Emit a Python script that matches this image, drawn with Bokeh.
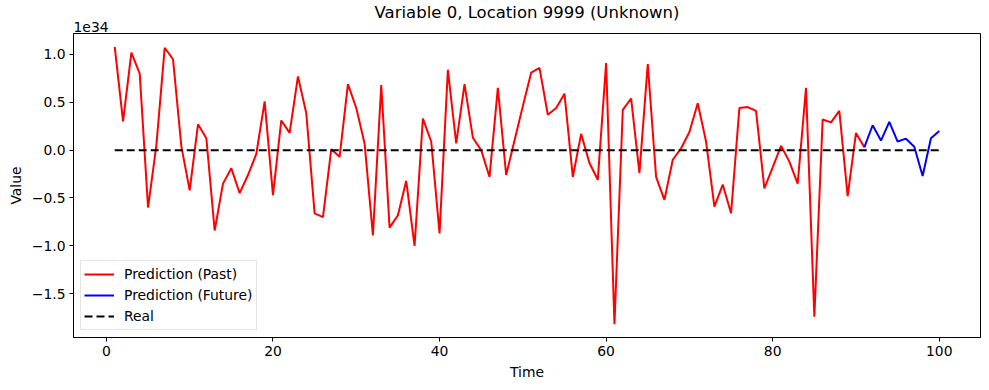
from bokeh.plotting import figure
from bokeh.models import Range1d, FixedTicker, Legend, LegendItem, Title
from bokeh.embed import file_html
from bokeh.resources import INLINE

# ---- data (values in units of 1e34) ----
SCALE_TEXT = "1e34"
TIME_PAST = list(range(1, 92))
PRED_PAST = [
    1.08, 0.30, 1.02, 0.80, -0.60, 0.05, 1.07, 0.95, 0.04, -0.42,
    0.27, 0.125, -0.84, -0.35, -0.19, -0.45, -0.26, -0.04, 0.51, -0.47,
    0.31, 0.18, 0.77, 0.385, -0.66, -0.70, 0.01, -0.07, 0.69, 0.44,
    0.07, -0.89, 0.68, -0.81, -0.68, -0.32, -1.00, 0.33, 0.09, -0.87,
    0.84, 0.07, 0.69, 0.13, 0.00, -0.28, 0.65, -0.26, 0.10, 0.46,
    0.81, 0.86, 0.37, 0.44, 0.59, -0.28, 0.17, -0.135, -0.31, 0.91,
    -1.82, 0.42, 0.54, -0.24, 0.90, -0.28, -0.52, -0.10, 0.02, 0.19,
    0.49, 0.09, -0.59, -0.36, -0.66, 0.44, 0.45, 0.41, -0.40, -0.18,
    0.045, -0.12, -0.35, 0.65, -1.74, 0.32, 0.29, 0.41, -0.48, 0.18,
    0.03,
]
TIME_FUTURE = list(range(91, 101))
PRED_FUTURE = [0.03, 0.26, 0.10, 0.295, 0.09, 0.12, 0.035, -0.27, 0.125, 0.20]
TIME_REAL = list(range(1, 101))
REAL = [
    0.0, 0.0, 0.0, 0.0, 0.0, 0.0, 0.0, 0.0, 0.0, 0.0,
    0.0, 0.0, 0.0, 0.0, 0.0, 0.0, 0.0, 0.0, 0.0, 0.0,
    0.0, 0.0, 0.0, 0.0, 0.0, 0.0, 0.0, 0.0, 0.0, 0.0,
    0.0, 0.0, 0.0, 0.0, 0.0, 0.0, 0.0, 0.0, 0.0, 0.0,
    0.0, 0.0, 0.0, 0.0, 0.0, 0.0, 0.0, 0.0, 0.0, 0.0,
    0.0, 0.0, 0.0, 0.0, 0.0, 0.0, 0.0, 0.0, 0.0, 0.0,
    0.0, 0.0, 0.0, 0.0, 0.0, 0.0, 0.0, 0.0, 0.0, 0.0,
    0.0, 0.0, 0.0, 0.0, 0.0, 0.0, 0.0, 0.0, 0.0, 0.0,
    0.0, 0.0, 0.0, 0.0, 0.0, 0.0, 0.0, 0.0, 0.0, 0.0,
    0.0, 0.0, 0.0, 0.0, 0.0, 0.0, 0.0, 0.0, 0.0, 0.0,
]
X_TICKS = [0, 20, 40, 60, 80, 100]
Y_TICKS = [-1.5, -1.0, -0.5, 0.0, 0.5, 1.0]
Y_TICK_LABELS = ["\u22121.5", "\u22121.0", "\u22120.5", "0.0", "0.5", "1.0"]
LEGEND_LABELS = ["Prediction (Past)", "Prediction (Future)", "Real"]
TITLE_TEXT = "Variable 0, Location 9999 (Unknown)"

FONT = "DejaVu Sans"

p = figure(
    width=981, height=382,
    output_backend="svg", toolbar_location=None,
    x_range=Range1d(-3.95, 104.95), y_range=Range1d(-1.958, 1.219),
    min_border_left=73, min_border_right=1, min_border_top=31, min_border_bottom=45,
)

# offset text ("1e34") nearest the frame, main title outside it
scale_title = Title(text=SCALE_TEXT, align="left", vertical_align="top",
                    text_font=FONT, text_font_size="13.9px",
                    text_font_style="normal", text_color="black", standoff=0)
p.add_layout(scale_title, "above")

p.title.text = TITLE_TEXT
p.title.align = "center"
p.title.text_font = FONT
p.title.text_font_size = "16.5px"
p.title.text_font_style = "normal"
p.title.text_color = "black"
p.title.standoff = 0

p.xgrid.visible = False
p.ygrid.visible = False
p.outline_line_color = "black"
p.outline_line_width = 1
p.background_fill_color = "white"
p.border_fill_color = "white"

for ax in (p.xaxis[0], p.yaxis[0]):
    ax.major_label_text_font = FONT
    ax.major_label_text_font_size = "13.9px"
    ax.major_label_text_color = "black"
    ax.axis_label_text_font = FONT
    ax.axis_label_text_font_size = "13.9px"
    ax.axis_label_text_font_style = "normal"
    ax.axis_label_text_color = "black"
    ax.major_tick_in = 0
    ax.major_tick_out = 4
    ax.minor_tick_in = 0
    ax.minor_tick_out = 0
    ax.major_tick_line_color = "black"
    ax.axis_line_color = "black"
    ax.major_label_standoff = 4
    ax.axis_label_standoff = 5

p.xaxis.ticker = FixedTicker(ticks=X_TICKS)
p.yaxis.ticker = FixedTicker(ticks=Y_TICKS)
p.yaxis.major_label_overrides = {t: s for t, s in zip(Y_TICKS, Y_TICK_LABELS)}
p.xaxis.axis_label = "Time"
p.yaxis.axis_label = "Value"

r_past = p.line(TIME_PAST, PRED_PAST, line_color="#ff0000", line_width=2)
r_future = p.line(TIME_FUTURE, PRED_FUTURE, line_color="#0000ff", line_width=2)
r_real = p.line(TIME_REAL, REAL, line_color="black", line_width=2, line_dash="8 4")

legend = Legend(items=[
    LegendItem(label=LEGEND_LABELS[0], renderers=[r_past]),
    LegendItem(label=LEGEND_LABELS[1], renderers=[r_future]),
    LegendItem(label=LEGEND_LABELS[2], renderers=[r_real]),
], location="bottom_left")
legend.margin = 7
legend.padding = 3
legend.spacing = 1
legend.label_height = 20
legend.glyph_height = 20
legend.glyph_width = 30
legend.label_standoff = 10
legend.label_text_font = FONT
legend.label_text_font_size = "13.9px"
legend.label_text_color = "black"
legend.border_line_color = "#cccccc"
legend.border_line_width = 1
legend.background_fill_alpha = 0.8
p.add_layout(legend)

open("out.html", "w").write(file_html(p, INLINE))
